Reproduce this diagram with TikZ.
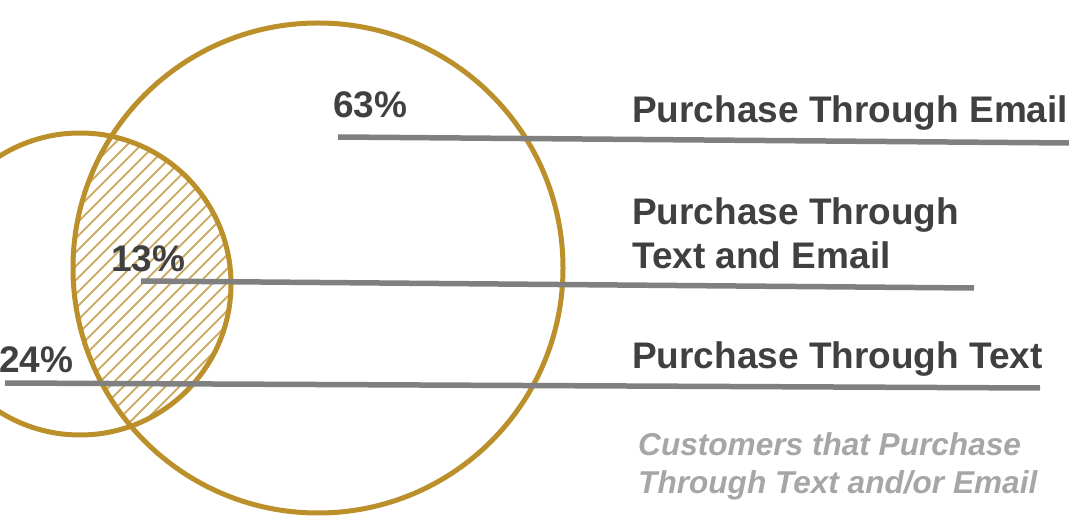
\documentclass[tikz,border=0pt]{standalone}
\usepackage{fontspec}
\setmainfont{Liberation Sans}
\definecolor{gold}{HTML}{BB8F2A}
\definecolor{hatch}{HTML}{CDAE68}
\definecolor{darktext}{HTML}{404040}
\definecolor{linegray}{HTML}{808080}
\definecolor{capgray}{HTML}{A6A6A6}
\tikzset{
  ring/.style={draw=gold, line width=5pt},
  leader/.style={draw=linegray, line width=5.5pt},
  lbl/.style={inner sep=0pt, anchor=base west, text=darktext, font=\bfseries\fontsize{37}{44}\selectfont, align=left},
  captext/.style={inner sep=0pt, anchor=base west, text=capgray, font=\bfseries\itshape\fontsize{31.6}{38}\selectfont, align=left},
}
\begin{document}
\begin{tikzpicture}[x=1pt,y=-1pt]
\useasboundingbox (0,0) rectangle (1069,518);
% hatched intersection
\begin{scope}
  \clip (318,268) circle (245);
  \clip (80,284) circle (151);
  \foreach \k in {-700,-686,...,400} {
    \draw[hatch, line width=2pt] (\k,650) -- (\k+650,0);
  }
\end{scope}
\draw[ring] (318,268) circle (245);
\draw[ring] (80,284) circle (151);
% leader lines
\coordinate (l1a) at (338,137); \coordinate (l1b) at (1069,143);
\coordinate (l2a) at (141,281); \coordinate (l2b) at (974,288);
\coordinate (l3a) at (5,383);   \coordinate (l3b) at (1040,388);
\draw[leader] (l1a) -- (l1b);
\draw[leader] (l2a) -- (l2b);
\draw[leader] (l3a) -- (l3b);
% percentages
\node[lbl] (p63) at (333,118) {63\%};
\node[lbl] (p13) at (111,272) {13\%};
\node[lbl] (p24) at (-1,373) {24\%};
% labels
\node[lbl] (email) at (632,123) {Purchase Through Email};
\node[lbl, anchor=north west] (both) at (632,197) {Purchase Through\\Text and Email};
\node[lbl] (text) at (632,369) {Purchase Through Text};
\node[captext, anchor=north west] (caption) at (638,432) {Customers that Purchase\\Through Text and/or Email};
\end{tikzpicture}
\end{document}
